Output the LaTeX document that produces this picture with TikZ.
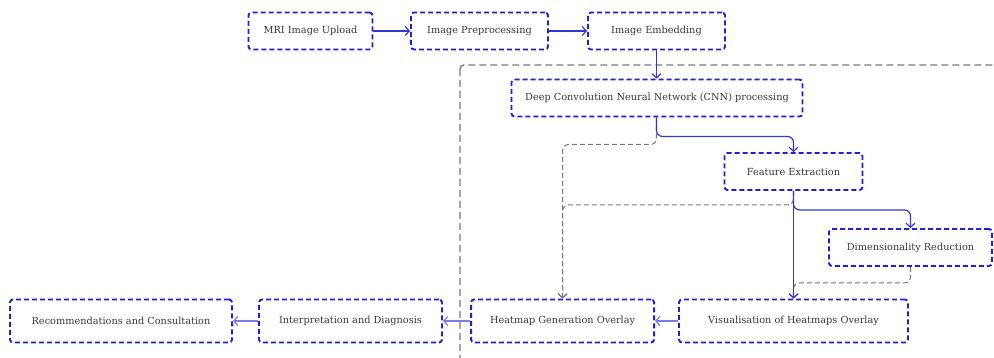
\documentclass[tikz,border=0pt]{standalone}
\usepackage{fontspec}
\setmainfont{DejaVu Serif}
\usetikzlibrary{arrows.meta}
\definecolor{boxblue}{HTML}{1F1FD6}
\definecolor{linkblue}{HTML}{3535D0}
\definecolor{softblue}{HTML}{7C7CE6}
\definecolor{txt}{HTML}{383838}
\definecolor{frame}{HTML}{7A7A7A}
\tikzset{
  stage/.style={draw=boxblue, line width=1.9pt, dash pattern=on 5pt off 3pt,
    rounded corners=3pt, fill=white, text=txt, inner sep=0pt,
    font=\fontsize{9.75}{11}\selectfont, minimum height=37pt},
  lowstage/.style={stage, minimum height=43pt},
  link/.style={draw=linkblue, line width=1.2pt, rounded corners=6pt,
    -{Straight Barb[length=4pt,width=9pt]}},
  softlink/.style={link, draw=softblue},
  ghost/.style={draw=frame, line width=1.1pt, dash pattern=on 5pt off 3pt,
    rounded corners=6pt, -{Straight Barb[length=4pt,width=9pt]}},
}
\begin{document}
\begin{tikzpicture}[x=1pt,y=-1pt]
\useasboundingbox (0,0) rectangle (994,358);
\clip (0,0) rectangle (994,358);
% processing region frame
\draw[frame, line width=1.4pt, dash pattern=on 7pt off 4pt, rounded corners=4pt]
  (460,65) rectangle (1010,380);

% stages
\node[stage, minimum width=124pt] (mri) at (310.5,31) {MRI Image Upload};
\node[stage, minimum width=137pt] (pre) at (479.5,31) {Image Preprocessing};
\node[stage, minimum width=137pt] (emb) at (656.5,31) {Image Embedding};
\node[stage, minimum width=291pt] (cnn) at (657,98) {Deep Convolution Neural Network (CNN) processing};
\node[stage, minimum width=138pt] (fe) at (793.5,171.5) {Feature Extraction};
\node[stage, minimum width=163pt] (dr) at (910.5,247.5) {Dimensionality Reduction};
\node[lowstage, minimum width=229pt] (vis) at (793.5,321) {Visualisation of Heatmaps Overlay};
\node[lowstage, minimum width=183pt] (hgo) at (562.6,321) {Heatmap Generation Overlay};
\node[lowstage, minimum width=183pt] (int) at (350.5,321) {Interpretation and Diagnosis};
\node[lowstage, minimum width=222pt] (rec) at (121,321) {Recommendations and Consultation};

% main flow
\draw[link] (mri) -- (pre);
\draw[link] (pre) -- (emb);
\draw[link] (emb.south) -- (emb.south |- cnn.north);

% secondary (dashed) feeds
\draw[ghost] (cnn.south -| emb.south) -- ++(0,27) -| (hgo.north);
\draw[ghost] (fe.south) -- ++(0,14) -| (hgo.north);
\draw[ghost] (dr.south) -- ++(0,16) -| (vis.north);

% analysis branch
\draw[link] (cnn.south -| emb.south) -- ++(0,19) -| (fe.north);
\draw[link] (fe.south) -- ++(0,19) -| (dr.north);
\draw[link] (fe.south) -- (vis.north);

% output chain
\draw[softlink] (vis.west) -- (hgo.east);
\draw[softlink] (hgo.west) -- (int.east);
\draw[softlink] (int.west) -- (rec.east);
\end{tikzpicture}
\end{document}
